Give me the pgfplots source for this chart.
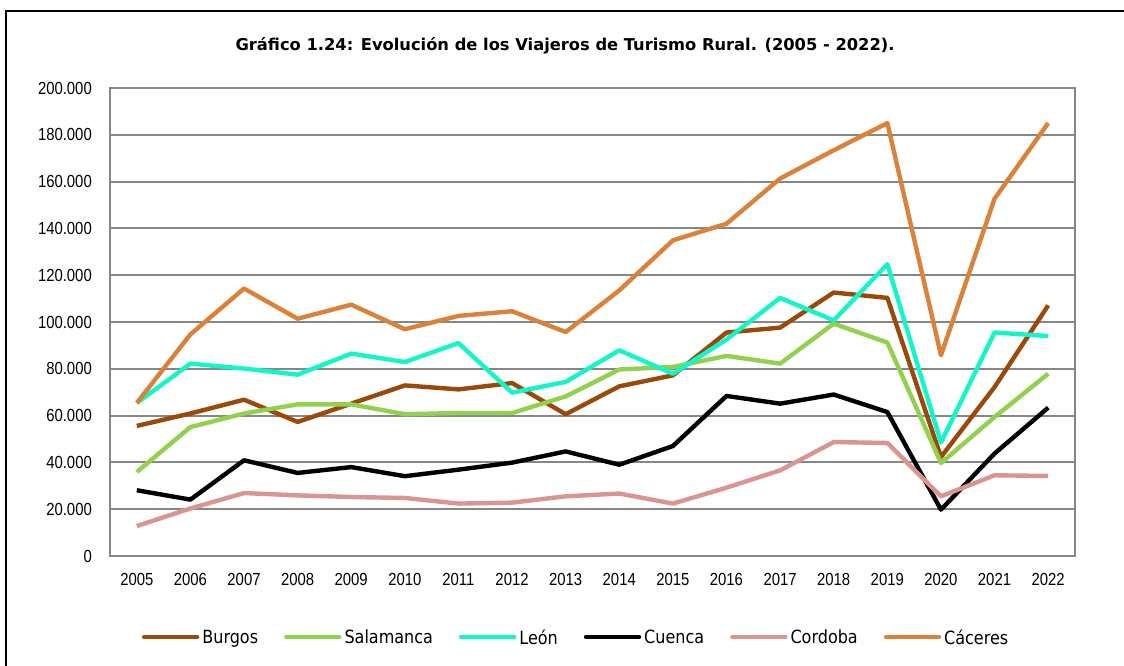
\documentclass[border=0pt]{standalone}
\usepackage{fontspec}
\usepackage{pgfplots}
\pgfplotsset{compat=1.18}
\setmainfont{Liberation Sans}
\newfontfamily\tickfont[FakeStretch=0.85]{Liberation Sans}
\newfontfamily\legfont[FakeStretch=0.88]{DejaVu Sans}
\newfontfamily\titlefont{DejaVu Sans Bold}
\definecolor{cBurgos}{RGB}{153,74,10}
\definecolor{cSalamanca}{RGB}{146,208,80}
\definecolor{cLeon}{RGB}{20,245,200}
\definecolor{cCuenca}{RGB}{0,0,0}
\definecolor{cCordoba}{RGB}{217,149,148}
\definecolor{cCaceres}{RGB}{218,130,58}
\definecolor{gridgray}{RGB}{134,134,134}
\begin{document}
\begin{tikzpicture}[x=1pt,y=1pt]
\begin{axis}[
  at={(110pt,110pt)}, anchor=south west,
  scale only axis, width=965pt, height=468pt,
  xmin=2004.5, xmax=2022.5, ymin=0, ymax=200000,
  xtick={2005,...,2022}, ytick={0,20000,...,200000},
  major tick length=0pt,
  ymajorgrids, grid style={gridgray, line width=2pt},
  axis line style={gridgray, line width=2pt},
  scaled y ticks=false,
  /pgf/number format/.cd, 1000 sep={.}, fixed, assume math mode=true,
  /pgfplots/.cd,
  xticklabel={\pgfmathprintnumber[1000 sep={}]{\tick}},
  ticklabel style={font=\tickfont\fontsize{17.5}{20}\selectfont, text=black},
  yticklabel style={anchor=east, inner sep=0pt, xshift=-18pt},
  xticklabel style={anchor=north, inner sep=0pt, yshift=-17pt},
  legend columns=6,
  legend style={at={(0.482,-0.173)}, anchor=center, draw=none, fill=none,
    font=\legfont\fontsize{18.2}{21}\selectfont,
    nodes={inner sep=0pt, text depth=0pt},
    /tikz/every odd column/.append style={column sep=3pt},
    /tikz/every even column/.append style={column sep=26pt}},
  legend image code/.code={\draw[#1, line cap=round] (0pt,0pt) -- (53pt,0pt);},
  every axis plot/.append style={line width=4.4pt, line join=round, no markers},
]
\addplot[cBurgos] coordinates {(2005,55600)(2006,60900)(2007,66800)(2008,57300)(2009,65100)(2010,72900)(2011,71200)(2012,73900)(2013,60600)(2014,72500)(2015,77200)(2016,95500)(2017,97600)(2018,112600)(2019,110300)(2020,42300)(2021,72200)(2022,107100)};
\addlegendentry{Burgos}
\addplot[cSalamanca] coordinates {(2005,35900)(2006,55100)(2007,60900)(2008,64800)(2009,64800)(2010,60600)(2011,61100)(2012,61100)(2013,68200)(2014,79700)(2015,80800)(2016,85500)(2017,82200)(2018,99300)(2019,91200)(2020,39700)(2021,59400)(2022,77900)};
\addlegendentry{Salamanca}
\addplot[cLeon] coordinates {(2005,65400)(2006,82200)(2007,80100)(2008,77500)(2009,86500)(2010,82900)(2011,91000)(2012,69800)(2013,74400)(2014,87900)(2015,77900)(2016,92500)(2017,110300)(2018,100700)(2019,124700)(2020,48500)(2021,95500)(2022,94000)};
\addlegendentry{León}
\addplot[cCuenca] coordinates {(2005,28100)(2006,24100)(2007,40900)(2008,35500)(2009,38000)(2010,34100)(2011,36900)(2012,39900)(2013,44700)(2014,39000)(2015,47000)(2016,68400)(2017,65100)(2018,69000)(2019,61500)(2020,19800)(2021,43800)(2022,63400)};
\addlegendentry{Cuenca}
\addplot[cCordoba] coordinates {(2005,12800)(2006,20300)(2007,26900)(2008,25900)(2009,25200)(2010,24800)(2011,22400)(2012,22800)(2013,25500)(2014,26700)(2015,22400)(2016,29200)(2017,36600)(2018,48700)(2019,48300)(2020,25500)(2021,34500)(2022,34200)};
\addlegendentry{Cordoba}
\addplot[cCaceres] coordinates {(2005,65400)(2006,94700)(2007,114300)(2008,101400)(2009,107400)(2010,96900)(2011,102600)(2012,104600)(2013,95700)(2014,113500)(2015,134900)(2016,142000)(2017,161300)(2018,173400)(2019,185000)(2020,85800)(2021,152700)(2022,185000)};
\addlegendentry{Cáceres}
\end{axis}
\node[anchor=base, inner sep=0pt, font=\titlefont\fontsize{16.3}{19}\selectfont] at (565,615.3) {Gráfico 1.24: Evolución de los Viajeros de Turismo Rural. (2005 - 2022).};
\draw[line width=1.5pt] (6,-5) -- (6,655) -- (1130,655);
\pgfresetboundingbox
\useasboundingbox (0,0) rectangle (1124,666);
\end{tikzpicture}
\end{document}
